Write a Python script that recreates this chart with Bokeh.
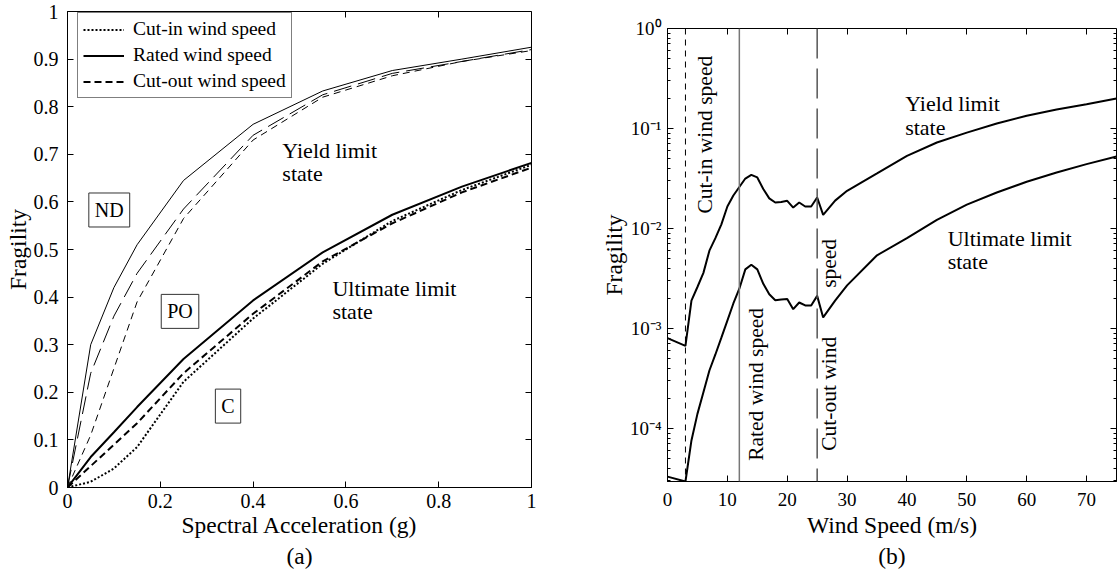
import numpy as np
from bokeh.plotting import figure
from bokeh.layouts import row, column
from bokeh.models import (Range1d, FixedTicker, LinearAxis, LogAxis, CustomJSTickFormatter,
                          Label, Legend, LegendItem, Span)
from bokeh.embed import file_html
from bokeh.resources import INLINE

FONT = "Liberation Serif"

# ---------------- (a) fragility vs spectral acceleration ----------------
sa = [0, 0.05, 0.1, 0.15, 0.25, 0.4, 0.55, 0.7, 0.85, 1.0]
yield_cutin = [0, 0.11, 0.25, 0.39, 0.565, 0.73, 0.82, 0.865, 0.895, 0.918]
yield_rated = [0, 0.30, 0.42, 0.51, 0.645, 0.763, 0.833, 0.876, 0.90, 0.925]
yield_cutout = [0, 0.24, 0.36, 0.45, 0.585, 0.74, 0.825, 0.87, 0.895, 0.92]
ult_cutin = [0, 0.012, 0.04, 0.085, 0.222, 0.355, 0.47, 0.56, 0.625, 0.678]
ult_rated = [0, 0.064, 0.116, 0.169, 0.27, 0.393, 0.494, 0.573, 0.632, 0.682]
ult_cutout = [0, 0.045, 0.09, 0.135, 0.24, 0.365, 0.475, 0.555, 0.62, 0.672]
sa_ticks = [0, 0.2, 0.4, 0.6, 0.8, 1.0]
frag_ticks = [0, 0.1, 0.2, 0.3, 0.4, 0.5, 0.6, 0.7, 0.8, 0.9, 1.0]

# ---------------- (b) fragility vs wind speed ----------------
wind = [0, 3, 4, 5, 6, 7, 8, 9, 10, 11, 12, 13, 14, 15, 16, 17, 18, 19, 20,
        21, 22, 23, 24, 25, 26, 28, 30, 35, 40, 45, 50, 55, 60, 65, 70, 75]
yield_wind = [8.0e-4, 6.7e-4, 1.9e-3, 2.6e-3, 3.6e-3, 6.0e-3, 8.0e-3, 1.1e-2, 1.66e-2,
              2.14e-2, 2.6e-2, 3.16e-2, 3.44e-2, 3.24e-2, 2.48e-2, 2.0e-2, 1.82e-2, 1.84e-2,
              1.89e-2, 1.62e-2, 1.82e-2, 1.66e-2, 1.66e-2, 2.04e-2, 1.37e-2, 1.9e-2, 2.38e-2,
              3.55e-2, 5.33e-2, 7.24e-2, 9.1e-2, 0.112, 0.134, 0.155, 0.175, 0.20]
ult_wind = [3.3e-5, 2.95e-5, 7.6e-5, 1.4e-4, 2.3e-4, 3.8e-4, 5.5e-4, 8.1e-4, 1.2e-3,
            1.78e-3, 2.5e-3, 3.9e-3, 4.34e-3, 3.9e-3, 2.8e-3, 2.2e-3, 1.92e-3, 1.95e-3,
            1.97e-3, 1.56e-3, 1.82e-3, 1.7e-3, 1.7e-3, 2.12e-3, 1.29e-3, 1.9e-3, 2.7e-3,
            5.4e-3, 8.0e-3, 1.22e-2, 1.73e-2, 2.29e-2, 2.93e-2, 3.63e-2, 4.4e-2, 5.25e-2]
cut_in_speed, rated_speed, cut_out_speed = 3, 12, 25
wind_ticks = [0, 10, 20, 30, 40, 50, 60, 70]
decade_ticks = [1e-4, 1e-3, 1e-2, 1e-1, 1.0]
decade_minor = [k * 10.0 ** e for e in range(-5, 0) for k in range(2, 10)]

Y_MIN_B = 10 ** -4.53

blank = CustomJSTickFormatter(code="return '';")
one_decimal = CustomJSTickFormatter(code="return String(Math.round(tick * 10) / 10);")
power_of_ten = CustomJSTickFormatter(code=r"""
const e = Math.round(Math.log10(tick));
const sup = {'-': '\u207B', '0': '\u2070', '1': '\u00B9', '2': '\u00B2', '3': '\u00B3',
             '4': '\u2074', '5': '\u2075', '6': '\u2076', '7': '\u2077', '8': '\u2078', '9': '\u2079'};
return '10' + String(e).split('').map(c => sup[c]).join('');
""")


def style_axis(ax, label_size="20px", major_in=6, minor_in=3):
    ax.axis_line_color = "black"
    ax.axis_line_width = 1
    ax.major_tick_in = major_in
    ax.major_tick_out = 0
    ax.minor_tick_in = minor_in
    ax.minor_tick_out = 0
    ax.major_tick_line_color = "black"
    ax.minor_tick_line_color = "black"
    ax.major_label_text_font = FONT
    ax.major_label_text_font_size = label_size
    ax.major_label_text_color = "black"
    ax.axis_label_text_font = FONT
    ax.axis_label_text_font_size = "23.5px"
    ax.axis_label_text_font_style = "normal"
    ax.axis_label_text_color = "black"


def mirror_axis(ax):
    # tick marks only, drawn on the opposite frame edge
    style_axis(ax)
    ax.formatter = blank
    ax.major_label_text_font_size = "0px"
    ax.major_label_standoff = 0
    ax.axis_label_standoff = 0


def panel_figure(**kw):
    p = figure(output_backend="svg", toolbar_location=None, height=571, title=None, **kw)
    p.grid.visible = False
    p.outline_line_color = "black"
    p.background_fill_color = "white"
    p.border_fill_color = "white"
    return p


# ---------------- panel (a) ----------------
p1 = panel_figure(width=590, x_range=Range1d(0, 1), y_range=Range1d(0, 1),
                  min_border_left=67, min_border_right=59, min_border_top=11,
                  min_border_bottom=84)

p1.xaxis.ticker = FixedTicker(ticks=sa_ticks, minor_ticks=[])
p1.yaxis.ticker = FixedTicker(ticks=frag_ticks, minor_ticks=[])
p1.xaxis.formatter = one_decimal
p1.yaxis.formatter = one_decimal
p1.xaxis.axis_label = "Spectral Acceleration (g)\n(a)"
p1.yaxis.axis_label = "Fragility"
for ax in p1.xaxis + p1.yaxis:
    style_axis(ax)
p1.xaxis.major_label_standoff = 6
p1.yaxis.major_label_standoff = 9
p1.xaxis.axis_label_standoff = 1
p1.xaxis.axis_label_text_line_height = 1.2
p1.yaxis.axis_label_standoff = 0

top1 = LinearAxis(ticker=FixedTicker(ticks=sa_ticks, minor_ticks=[]), fixed_location=1)
right1 = LinearAxis(ticker=FixedTicker(ticks=frag_ticks, minor_ticks=[]), fixed_location=1)
mirror_axis(top1)
mirror_axis(right1)
p1.add_layout(top1, "above")
p1.add_layout(right1, "right")

# yield limit state (thin)
p1.line(sa, yield_rated, line_color="black", line_width=1)
p1.line(sa, yield_cutout, line_color="black", line_width=1, line_dash="18 7")
p1.line(sa, yield_cutin, line_color="black", line_width=1, line_dash="7 5")
# ultimate limit state (thick)
r_rated = p1.line(sa, ult_rated, line_color="black", line_width=2)
r_cutout = p1.line(sa, ult_cutout, line_color="black", line_width=2, line_dash="7 4")
r_cutin = p1.line(sa, ult_cutin, line_color="black", line_width=2, line_dash="2 2")

legend = Legend(items=[LegendItem(label="Cut-in wind speed", renderers=[r_cutin]),
                       LegendItem(label="Rated wind speed", renderers=[r_rated]),
                       LegendItem(label="Cut-out wind speed", renderers=[r_cutout])],
                location=(10, 389), margin=0, padding=5, spacing=4,
                glyph_width=41, glyph_height=21, label_height=21, label_standoff=9,
                label_text_font=FONT, label_text_font_size="19.5px", label_text_color="black",
                border_line_color="black", border_line_width=1, background_fill_color="white",
                background_fill_alpha=1)
p1.add_layout(legend)

for x, y, txt in [(0.463, 0.708, "Yield limit"), (0.463, 0.660, "state"),
                  (0.571, 0.418, "Ultimate limit"), (0.571, 0.370, "state")]:
    p1.add_layout(Label(x=x, y=y, text=txt, text_font=FONT, text_font_size="22px",
                        text_color="black", text_baseline="alphabetic", text_align="left"))

for x, y, txt in [(0.09, 0.583, "ND"), (0.2425, 0.37, "PO"), (0.346, 0.171, "C")]:
    p1.add_layout(Label(x=x, y=y, text=txt, text_font=FONT, text_font_size="20px",
                        text_color="black", text_align="center", text_baseline="middle",
                        border_line_color="#333333", border_line_width=1,
                        background_fill_color="white", padding=6))

# ---------------- panel (b) ----------------
p2 = panel_figure(width=528, x_range=Range1d(0, 75), y_range=Range1d(Y_MIN_B, 1),
                  y_axis_type="log", min_border_left=77, min_border_right=2,
                  min_border_top=28, min_border_bottom=90)

p2.xaxis.ticker = FixedTicker(ticks=wind_ticks, minor_ticks=[])
p2.yaxis.ticker = FixedTicker(ticks=decade_ticks, minor_ticks=decade_minor)
p2.yaxis.formatter = power_of_ten
p2.xaxis.axis_label = "Wind Speed (m/s)\n(b)"
p2.yaxis.axis_label = "Fragility"
for ax in p2.xaxis + p2.yaxis:
    style_axis(ax, label_size="19px")
p2.xaxis.major_label_standoff = 11
p2.yaxis.major_label_standoff = 6
p2.xaxis.axis_label_standoff = 3
p2.xaxis.axis_label_text_line_height = 1.2
p2.yaxis.axis_label_standoff = 0

top2 = LinearAxis(ticker=FixedTicker(ticks=wind_ticks, minor_ticks=[]), fixed_location=1)
right2 = LogAxis(ticker=FixedTicker(ticks=decade_ticks, minor_ticks=decade_minor),
                 fixed_location=75)
mirror_axis(top2)
mirror_axis(right2)
p2.add_layout(top2, "above")
p2.add_layout(right2, "right")

p2.add_layout(Span(location=cut_in_speed, dimension="height", line_color="black",
                   line_width=1, line_dash="6 5"))
p2.add_layout(Span(location=rated_speed, dimension="height", line_color="#777777",
                   line_width=1.5))
p2.add_layout(Span(location=cut_out_speed, dimension="height", line_color="#555555",
                   line_width=1.5, line_dash="30 10"))

p2.line(wind, yield_wind, line_color="black", line_width=2)
p2.line(wind, ult_wind, line_color="black", line_width=2)

for x, y, txt, align in [(6.2, 0.533, "Cut-in wind speed", "right"),
                         (14.7, 4.75e-5, "Rated wind speed", "left"),
                         (27.0, 5.98e-5, "Cut-out wind", "left"),
                         (27.0, 2.55e-3, "speed", "left")]:
    p2.add_layout(Label(x=x, y=y, text=txt, angle=np.pi / 2, angle_units="rad",
                        text_font=FONT, text_font_size="21.5px", text_color="black",
                        text_align=align, text_baseline="middle"))

for x, y, txt in [(39.7, 0.1766, "Yield limit"), (39.7, 0.1016, "state"),
                  (46.8, 0.00789, "Ultimate limit"), (46.8, 0.00465, "state")]:
    p2.add_layout(Label(x=x, y=y, text=txt, text_font=FONT, text_font_size="22px",
                        text_color="black", text_baseline="alphabetic", text_align="left"))

# each panel keeps its own frame margins
layout = row(column(p1), column(p2))
open("out.html", "w").write(file_html(layout, INLINE))
